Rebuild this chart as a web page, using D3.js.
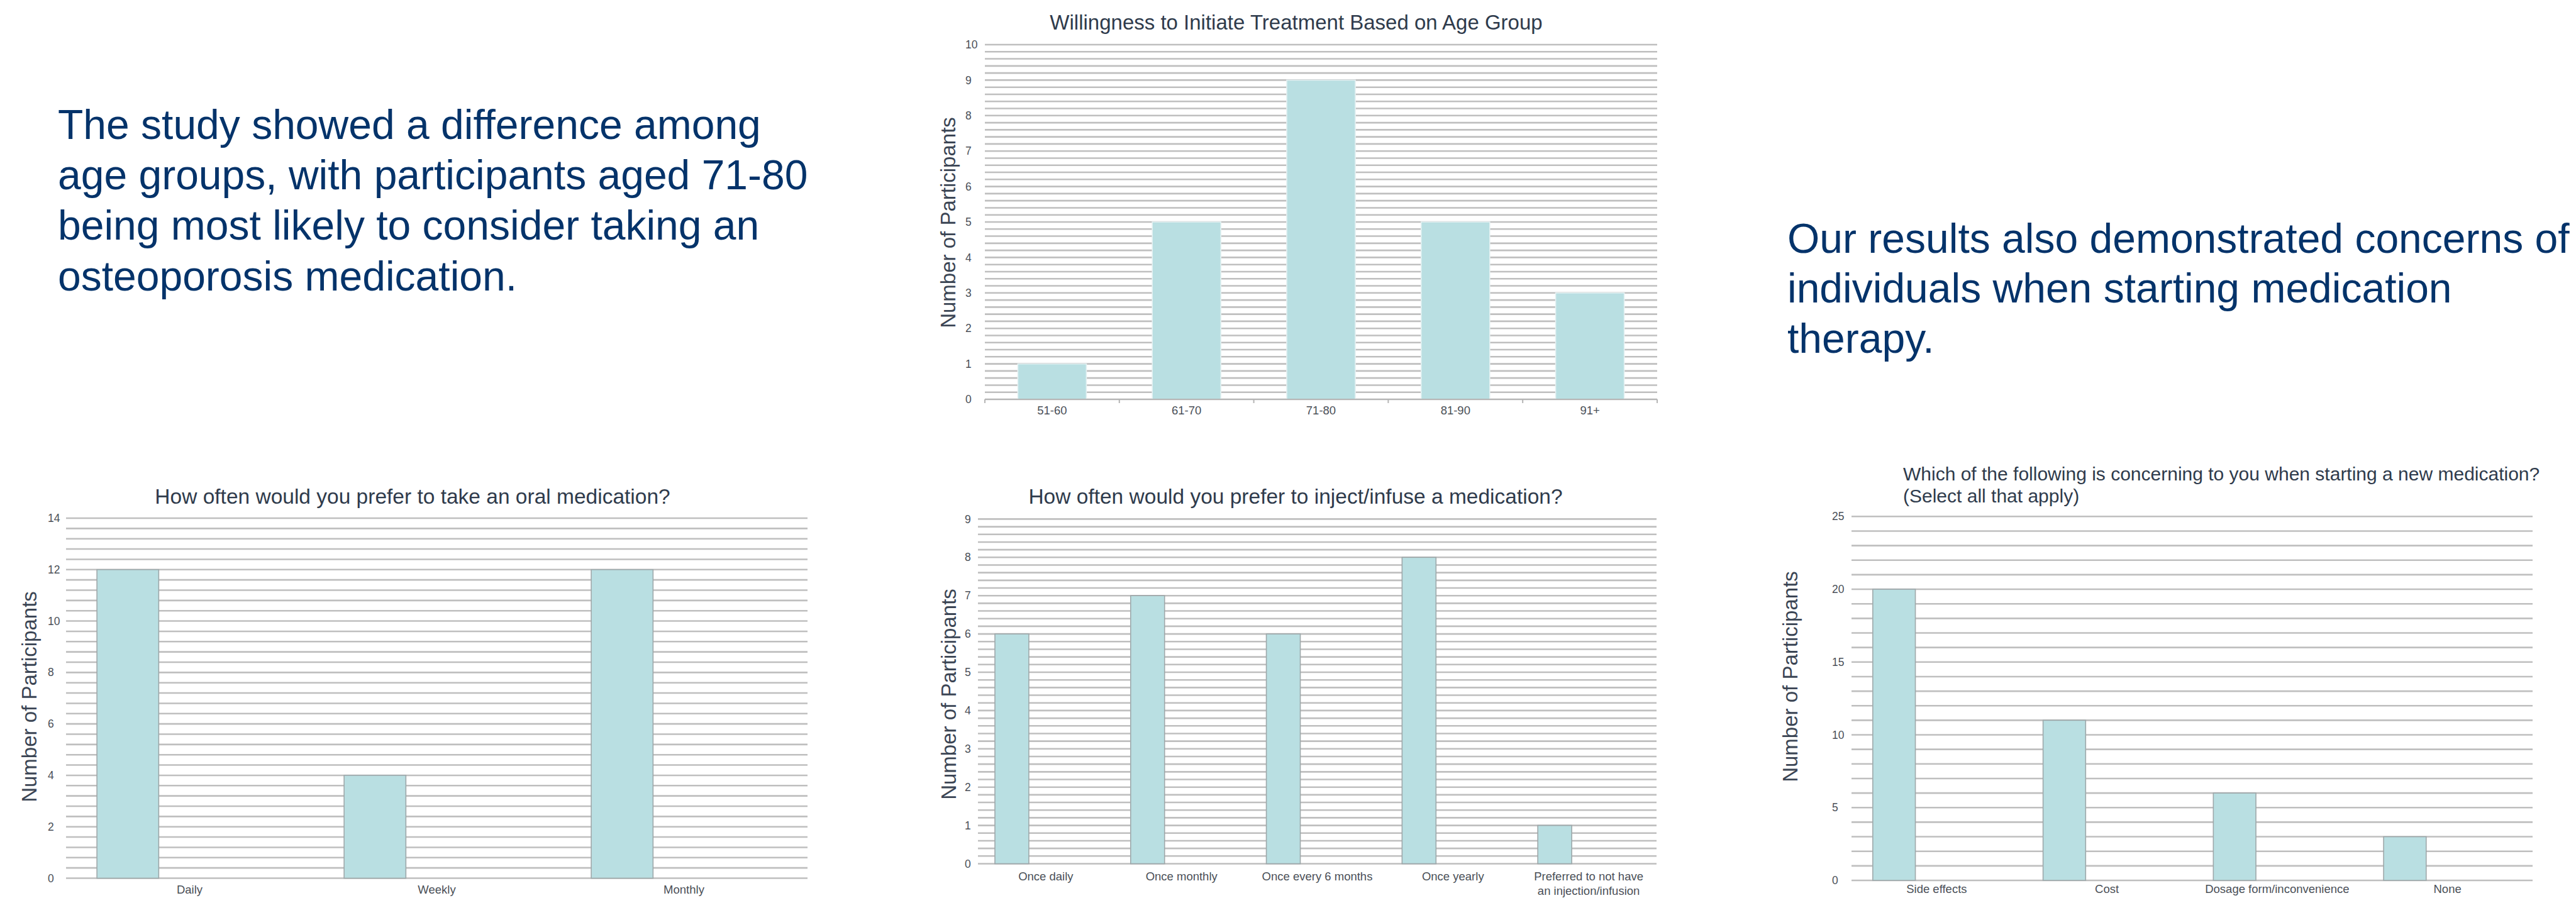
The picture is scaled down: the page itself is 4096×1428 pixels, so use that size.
<!DOCTYPE html>
<html>
<head>
<meta charset="utf-8">
<script src="https://cdn.jsdelivr.net/npm/d3@7"></script>
<style>
  html, body { margin: 0; padding: 0; background: #ffffff; }
  svg { display: block; font-family: "Liberation Sans", Arial, sans-serif; }
</style>
</head>
<body>
<svg id="poster" width="4096" height="1428"></svg>
<script>
// ---- Survey data ----------------------------------------------------------
const ageGroups = ["51-60", "61-70", "71-80", "81-90", "91+"];
const ageCounts = [1, 5, 9, 5, 3];
const ageTicks = [0, 1, 2, 3, 4, 5, 6, 7, 8, 9, 10];
const ageTitle = ["Willingness to Initiate Treatment Based on Age Group"];

const oralFrequencies = ["Daily", "Weekly", "Monthly"];
const oralCounts = [12, 4, 12];
const oralTicks = [0, 2, 4, 6, 8, 10, 12, 14];
const oralTitle = ["How often would you prefer to take an oral medication?"];

const injectFrequencies = ["Once daily", "Once monthly", "Once every 6 months", "Once yearly",
                           "Preferred to not have\nan injection/infusion"];
const injectCounts = [6, 7, 6, 8, 1];
const injectTicks = [0, 1, 2, 3, 4, 5, 6, 7, 8, 9];
const injectTitle = ["How often would you prefer to inject/infuse a medication?"];

const concerns = ["Side effects", "Cost", "Dosage form/inconvenience", "None"];
const concernCounts = [20, 11, 6, 3];
const concernTicks = [0, 5, 10, 15, 20, 25];
const concernTitle = ["Which of the following is concerning to you when starting a new medication?",
                      "(Select all that apply)"];

const yAxisTitle = "Number of Participants";

const leftParagraph = ["The study showed a difference among",
                       "age groups, with participants aged 71-80",
                       "being most likely to consider taking an",
                       "osteoporosis medication."];
const rightParagraph = ["Our results also demonstrated concerns of",
                        "individuals when starting medication",
                        "therapy."];

// ---- Styling ----------------------------------------------------------------
const BAR_FILL = "#b9dfe2";
const GRID = "#bfbfbf";
const TITLE_COLOR = "#2f3b4c";
const AXIS_TITLE_COLOR = "#3b4554";
const TICK_COLOR = "#4a4f57";
const TEXT_BLUE = "#04336a";

const svg = d3.select("#poster");

svg.append("rect").attr("width", 4096).attr("height", 1428).attr("fill", "#ffffff");

// ---- Narrative text blocks ---------------------------------------------------
function paragraph(lines, x, firstBaseline, lineGap) {
  const t = svg.append("text")
    .attr("x", x).attr("y", firstBaseline)
    .attr("font-size", 66).attr("fill", TEXT_BLUE);
  lines.forEach((ln, i) => {
    t.append("tspan").attr("x", x).attr("y", firstBaseline + i * lineGap).text(ln);
  });
}
paragraph(leftParagraph, 92, 221, 80.2);
paragraph(rightParagraph, 2842, 402, 79.4);

// ---- Bar chart builder -------------------------------------------------------
function barChart(cfg) {
  const g = svg.append("g");
  const x = d3.scaleBand().domain(cfg.categories).range([cfg.left, cfg.right]).padding(0);
  const y = d3.scaleLinear().domain([0, cfg.ticks[cfg.ticks.length - 1]]).range([cfg.bottom, cfg.top]);

  // five light rules per labelled interval
  const rules = [];
  for (let i = 0; i < cfg.ticks.length - 1; i++) {
    const a = cfg.ticks[i], b = cfg.ticks[i + 1];
    for (let k = 0; k < 5; k++) rules.push(a + (b - a) * k / 5);
  }
  rules.push(cfg.ticks[cfg.ticks.length - 1]);

  g.append("g").selectAll("line").data(rules).join("line")
    .attr("x1", cfg.left).attr("x2", cfg.right)
    .attr("y1", d => y(d)).attr("y2", d => y(d))
    .attr("stroke", GRID).attr("stroke-width", 2.6);

  // value labels on the left, left-aligned
  g.append("g").selectAll("text").data(cfg.ticks).join("text")
    .attr("x", cfg.tickX).attr("y", d => y(d))
    .attr("dy", "0.35em")
    .attr("font-size", 17.5).attr("fill", TICK_COLOR)
    .text(d => d);

  // bars
  const bw = x.bandwidth();
  g.append("g").selectAll("rect").data(cfg.values).join("rect")
    .attr("x", (d, i) => x(cfg.categories[i]) + bw * cfg.barOffset)
    .attr("width", bw * cfg.barWidth)
    .attr("y", d => y(d))
    .attr("height", d => y(0) - y(d))
    .attr("fill", BAR_FILL)
    .attr("stroke", cfg.barStroke).attr("stroke-width", 1.6);

  // optional category axis with boundary ticks
  if (cfg.axisLine) {
    g.append("line")
      .attr("x1", cfg.left).attr("x2", cfg.right)
      .attr("y1", y(0)).attr("y2", y(0))
      .attr("stroke", "#b5b5b5").attr("stroke-width", 2.2);
    const bounds = cfg.categories.map(c => x(c)).concat([cfg.right]);
    g.append("g").selectAll("line").data(bounds).join("line")
      .attr("x1", d => d).attr("x2", d => d)
      .attr("y1", y(0)).attr("y2", y(0) + 6)
      .attr("stroke", "#b5b5b5").attr("stroke-width", 2);
  }

  // category labels
  const lab = g.append("g").selectAll("text").data(cfg.categories).join("text")
    .attr("x", d => x(d) + bw / 2)
    .attr("y", cfg.labelY)
    .attr("text-anchor", "middle")
    .attr("font-size", 18.5).attr("fill", TICK_COLOR);
  lab.each(function (d) {
    const t = d3.select(this);
    d.split("\n").forEach((part, i) => {
      t.append("tspan").attr("x", x(d) + bw / 2).attr("y", cfg.labelY + i * 22.5).text(part);
    });
  });

  // chart title
  const tt = g.append("text")
    .attr("x", cfg.titleX).attr("y", cfg.titleY)
    .attr("text-anchor", cfg.titleAnchor)
    .attr("font-size", cfg.titleSize).attr("fill", TITLE_COLOR);
  cfg.title.forEach((ln, i) => {
    tt.append("tspan").attr("x", cfg.titleX).attr("y", cfg.titleY + i * cfg.titleGap).text(ln);
  });

  // vertical axis title
  g.append("text")
    .attr("transform", `translate(${cfg.yTitleX},${cfg.yTitleY}) rotate(-90)`)
    .attr("text-anchor", "middle").attr("dy", "0.35em")
    .attr("font-size", 33).attr("fill", AXIS_TITLE_COLOR)
    .text(yAxisTitle);
}

// Age group chart (top centre)
barChart({
  categories: ageGroups, values: ageCounts, ticks: ageTicks, title: ageTitle,
  left: 1566, right: 2635, top: 71, bottom: 635,
  tickX: 1535, labelY: 659,
  barOffset: 0.245, barWidth: 0.51, barStroke: "#e4f1f2", axisLine: true,
  titleX: 2061, titleY: 47, titleAnchor: "middle", titleSize: 33, titleGap: 0,
  yTitleX: 1507, yTitleY: 354
});

// Oral medication chart (bottom left)
barChart({
  categories: oralFrequencies, values: oralCounts, ticks: oralTicks, title: oralTitle,
  left: 105, right: 1284, top: 824, bottom: 1396.5,
  tickX: 76, labelY: 1421,
  barOffset: 0.125, barWidth: 0.25, barStroke: "#9ea8aa", axisLine: false,
  titleX: 656, titleY: 801, titleAnchor: "middle", titleSize: 33.5, titleGap: 0,
  yTitleX: 46, yTitleY: 1108
});

// Injection / infusion chart (bottom centre)
barChart({
  categories: injectFrequencies, values: injectCounts, ticks: injectTicks, title: injectTitle,
  left: 1555, right: 2634, top: 825.4, bottom: 1373.5,
  tickX: 1534, labelY: 1400,
  barOffset: 0.125, barWidth: 0.25, barStroke: "#9ea8aa", axisLine: false,
  titleX: 2060, titleY: 801, titleAnchor: "middle", titleSize: 33.5, titleGap: 0,
  yTitleX: 1508, yTitleY: 1104
});

// Concerns chart (bottom right)
barChart({
  categories: concerns, values: concernCounts, ticks: concernTicks, title: concernTitle,
  left: 2944, right: 4027, top: 821.3, bottom: 1400,
  tickX: 2913, labelY: 1420,
  barOffset: 0.125, barWidth: 0.25, barStroke: "#9ea8aa", axisLine: false,
  titleX: 3026, titleY: 764, titleAnchor: "start", titleSize: 30, titleGap: 34.5,
  yTitleX: 2846, yTitleY: 1076
});
</script>
</body>
</html>
